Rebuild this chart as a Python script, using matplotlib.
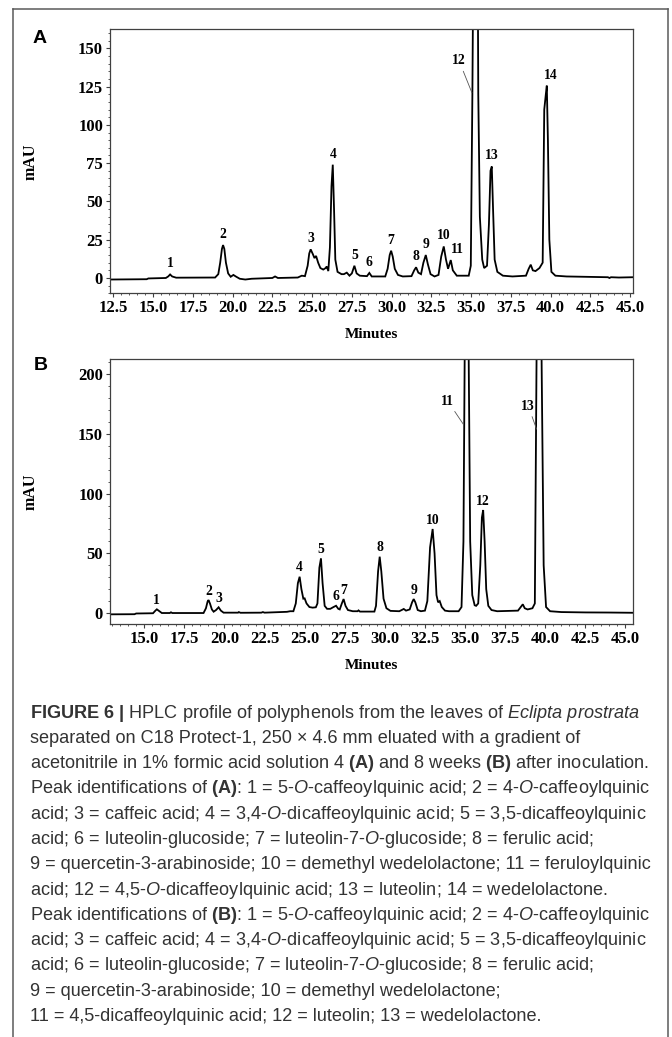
import matplotlib
matplotlib.use("Agg")
import matplotlib.pyplot as plt
from matplotlib.ticker import MultipleLocator, FormatStrFormatter
from matplotlib.lines import Line2D

# ---------------- data ----------------
# chromatogram A (4 weeks): (minutes, mAU) points
trace_a = [
    (12.29, -1.0), (14.6, -0.8), (14.7, -0.3), (15.8, 0.0), (15.95, 1.0), (16.07, 2.3),
    (16.2, 1.0), (16.45, 0.2), (18.9, 0.3), (19.1, 2.5), (19.22, 10), (19.33, 19),
    (19.4, 21.5), (19.48, 19), (19.58, 10), (19.72, 3), (19.88, 0.8), (20.05, 2.0),
    (20.2, 1.0), (20.45, -0.5), (20.8, -1.0), (21.2, -0.5), (22.5, 0.0), (22.67, 1.0),
    (22.85, 0.0), (24.1, 0.3), (24.35, 1.5), (24.55, 1.2), (24.72, 8), (24.82, 16),
    (24.91, 18.7), (25.05, 15.5), (25.15, 13), (25.25, 14.4), (25.38, 10), (25.52, 6.5),
    (25.7, 5.5), (25.85, 6.5), (25.92, 7.5), (26.02, 4.5), (26.12, 20), (26.22, 60),
    (26.3, 74), (26.38, 45), (26.46, 12), (26.6, 4), (26.85, 2.5), (27.0, 2.5),
    (27.18, 3.5), (27.35, 1.5), (27.5, 3), (27.66, 8), (27.8, 3), (28.0, 1.5),
    (28.45, 1.2), (28.6, 3.3), (28.75, 1.0), (29.6, 1.0), (29.75, 6), (29.88, 15),
    (29.97, 17.8), (30.07, 14), (30.2, 6), (30.4, 2), (30.7, 1.0), (31.25, 1.2),
    (31.42, 5), (31.54, 7), (31.68, 3.5), (31.85, 2.5), (32.0, 10), (32.15, 15),
    (32.28, 9), (32.45, 2.5), (32.7, 1.0), (32.95, 2), (33.12, 14), (33.28, 20.6),
    (33.42, 12), (33.55, 6), (33.72, 11.7), (33.85, 5), (34.1, 1.5), (34.85, 1.5),
    (34.98, 8), (35.08, 120), (35.2, 300), (35.29, 340), (35.38, 300), (35.45, 120),
    (35.55, 40), (35.7, 12), (35.82, 6.5), (36.0, 8), (36.12, 35), (36.22, 70),
    (36.3, 72.8), (36.38, 45), (36.48, 12), (36.65, 4), (37.0, 1.5), (37.6, 1.0),
    (38.45, 1.5), (38.62, 6), (38.75, 8.7), (38.88, 5), (39.05, 4.5), (39.3, 6.5),
    (39.5, 10), (39.6, 110), (39.7, 120), (39.76, 125.6), (39.83, 90), (39.92, 25),
    (40.05, 4), (40.3, 1.5), (41.0, 1.0), (43.6, 0.5), (43.7, 0.0), (43.8, 0.5),
    (44.3, 0.3), (45.2, 0.5),
]

# chromatogram B (8 weeks)
trace_b = [
    (12.87, -1.1), (14.4, -1.0), (14.5, -0.4), (15.55, -0.2), (15.7, 2.0), (15.79, 3.1),
    (15.9, 2.0), (16.1, 0.0), (16.6, 0.0), (16.67, 0.6), (16.75, 0.0), (18.7, 0.0),
    (18.85, 4), (18.95, 9.5), (19.01, 10.9), (19.1, 8), (19.22, 3), (19.33, 1.1),
    (19.48, 2.5), (19.64, 4.8), (19.78, 2), (19.95, 0.3), (20.85, 0.3), (20.9, 0.8),
    (21.0, 0.2), (22.3, 0.3), (22.4, 0.8), (22.5, 0.3), (23.9, 1.0), (24.1, 1.5),
    (24.3, 1.5), (24.45, 8), (24.58, 25), (24.69, 30.4), (24.8, 20), (24.92, 12),
    (25.0, 12.3), (25.12, 8), (25.3, 5), (25.5, 4.5), (25.7, 4.8), (25.8, 8),
    (25.92, 38), (26.02, 45.8), (26.12, 25), (26.25, 6), (26.4, 3.5), (26.6, 3.5),
    (26.8, 5), (26.96, 6.1), (27.1, 3.5), (27.19, 3), (27.32, 8), (27.43, 11.7),
    (27.55, 6), (27.7, 2.5), (28.0, 1.5), (28.3, 1.5), (28.36, 2.2), (28.45, 1.2),
    (29.35, 1.2), (29.45, 6), (29.58, 35), (29.68, 47.2), (29.78, 35), (29.92, 12),
    (30.1, 4), (30.35, 1.8), (30.9, 1.5), (31.05, 2.5), (31.18, 3.4), (31.32, 2),
    (31.55, 3), (31.7, 9), (31.8, 11.7), (31.9, 9), (32.05, 2.5), (32.25, 1.5),
    (32.5, 2), (32.65, 10), (32.82, 55), (32.98, 70.4), (33.1, 50), (33.22, 15),
    (33.32, 9), (33.42, 10), (33.55, 5), (33.75, 2), (34.0, 1.5), (34.6, 1.5),
    (34.78, 5), (34.9, 60), (35.0, 260), (35.1, 460), (35.2, 260), (35.32, 60),
    (35.45, 15), (35.6, 6.5), (35.69, 6), (35.82, 8), (35.95, 40), (36.05, 80),
    (36.13, 86.3), (36.22, 60), (36.32, 20), (36.45, 6), (36.65, 2.5), (37.0, 1.5),
    (38.3, 2), (38.5, 5.5), (38.6, 7.3), (38.72, 4), (38.9, 3), (39.2, 4),
    (39.35, 8), (39.45, 200), (39.6, 470), (39.78, 200), (39.9, 40), (40.05, 5),
    (40.3, 1.5), (41.0, 0.8), (42.5, 0.5), (44.0, 0.4), (45.5, 0.2),
]

# peak labels (number, retention time, peak height)
labels_a = ["1", "2", "3", "4", "5", "6", "7", "8", "9", "10", "11", "13", "14"]
label_time_a = [16.07, 19.4, 24.91, 26.3, 27.66, 28.6, 29.97, 31.54, 32.15, 33.28, 33.72, 36.3, 39.76]
label_height_a = [2.3, 21.5, 18.7, 74, 8, 3.3, 17.8, 7, 15, 20.6, 11.7, 72.8, 125.6]

labels_b = ["1", "2", "3", "4", "5", "6", "7", "8", "9", "10", "12"]
label_time_b = [15.79, 19.01, 19.64, 24.69, 26.02, 26.96, 27.43, 29.68, 31.8, 32.98, 36.13]
label_height_b = [3.1, 10.9, 4.8, 30.4, 45.8, 6.1, 11.7, 47.2, 11.7, 70.4, 86.3]

# off-scale peaks labelled with a leader line: (label, text position, line end)
leader_a = [("12", (34.24, 141.9), (35.05, 121.0))]
leader_b = [("11", (33.92, 177.6), (34.9, 158.0)), ("13", (38.94, 173.4), (39.46, 154.0))]

xticks_a = [12.5, 15.0, 17.5, 20.0, 22.5, 25.0, 27.5, 30.0, 32.5, 35.0, 37.5, 40.0, 42.5, 45.0]
yticks_a = [0, 25, 50, 75, 100, 125, 150]
xticks_b = [15.0, 17.5, 20.0, 22.5, 25.0, 27.5, 30.0, 32.5, 35.0, 37.5, 40.0, 42.5, 45.0]
yticks_b = [0, 50, 100, 150, 200]

caption_lines = [
    r"$\mathbf{FIGURE\ 6\ |}$ HPLC profile of polyphenols from the leaves of $\mathit{Eclipta\ prostrata}$",
    "separated on C18 Protect-1, 250 \u00d7 4.6 mm eluated with a gradient of",
    r"acetonitrile in 1% formic acid solution 4 $\mathbf{(A)}$ and 8 weeks $\mathbf{(B)}$ after inoculation.",
    r"Peak identifications of $\mathbf{(A)}$: 1 = 5-$\mathit{O}$-caffeoylquinic acid; 2 = 4-$\mathit{O}$-caffeoylquinic",
    r"acid; 3 = caffeic acid; 4 = 3,4-$\mathit{O}$-dicaffeoylquinic acid; 5 = 3,5-dicaffeoylquinic",
    r"acid; 6 = luteolin-glucoside; 7 = luteolin-7-$\mathit{O}$-glucoside; 8 = ferulic acid;",
    "9 = quercetin-3-arabinoside; 10 = demethyl wedelolactone; 11 = feruloylquinic",
    r"acid; 12 = 4,5-$\mathit{O}$-dicaffeoylquinic acid; 13 = luteolin; 14 = wedelolactone.",
    r"Peak identifications of $\mathbf{(B)}$: 1 = 5-$\mathit{O}$-caffeoylquinic acid; 2 = 4-$\mathit{O}$-caffeoylquinic",
    r"acid; 3 = caffeic acid; 4 = 3,4-$\mathit{O}$-dicaffeoylquinic acid; 5 = 3,5-dicaffeoylquinic",
    r"acid; 6 = luteolin-glucoside; 7 = luteolin-7-$\mathit{O}$-glucoside; 8 = ferulic acid;",
    "9 = quercetin-3-arabinoside; 10 = demethyl wedelolactone;",
    "11 = 4,5-dicaffeoylquinic acid; 12 = luteolin; 13 = wedelolactone.",
]

# ---------------- style ----------------
W, H, DPI = 672, 1037, 100
SERIF = "Liberation Serif"
SANS = "Liberation Sans"
plt.rcParams["mathtext.fontset"] = "custom"
plt.rcParams["mathtext.rm"] = SANS
plt.rcParams["mathtext.it"] = SANS + ":italic"
plt.rcParams["mathtext.bf"] = SANS + ":bold"

fig = plt.figure(figsize=(W / DPI, H / DPI), dpi=DPI)
fig.patch.set_facecolor("white")


def fx(px):
    return px / W


def fy(py):
    return 1 - py / H


# outer frame (left, top, right edges)
frame_col = "#5a5a5a"
for xs, ys in [((13, 13), (9, H + 5)), ((13, 668), (9, 9)), ((668, 668), (9, H + 5))]:
    fig.add_artist(Line2D([fx(x) for x in xs], [fy(y) for y in ys], color=frame_col, lw=1.1))


def make_panel(rect_px, trace, xlim, ylim, xticks, yticks, yminor, labels, ltime, lheight,
               leaders, label_dy, letter, letter_pos):
    l, t, r, b = rect_px
    ax = fig.add_axes([fx(l), fy(b), (r - l) / W, (b - t) / H])
    xs = [p[0] for p in trace]
    ys = [p[1] for p in trace]
    ax.plot(xs, ys, color="black", lw=1.3, solid_joinstyle="miter")
    ax.set_xlim(*xlim)
    ax.set_ylim(*ylim)
    ax.set_xticks(xticks)
    ax.set_yticks(yticks)
    ax.xaxis.set_minor_locator(MultipleLocator(0.5))
    ax.yaxis.set_minor_locator(MultipleLocator(yminor))
    ax.xaxis.set_major_formatter(FormatStrFormatter("%.1f"))
    ax.tick_params(which="major", direction="out", length=3.0, width=0.8, pad=2,
                   color="#404040", labelsize=12)
    ax.tick_params(which="minor", direction="out", length=1.6, width=0.6, color="#404040")
    ax.tick_params(top=False, right=False, which="both")
    for lab in ax.get_xticklabels() + ax.get_yticklabels():
        lab.set_fontfamily(SERIF)
        lab.set_fontweight("bold")
    for sp in ax.spines.values():
        sp.set_color("#404040")
        sp.set_linewidth(0.9)
    ax.set_ylabel("mAU", fontfamily=SERIF, fontweight="bold", fontsize=11.5)
    ax.yaxis.set_label_coords((39 - l) / (r - l), 0.5)
    ax.set_xlabel("Minutes", fontfamily=SERIF, fontweight="bold", fontsize=11)
    ax.xaxis.set_label_coords(0.5, -0.132)
    for lab, tt, hh in zip(labels, ltime, lheight):
        dx = 0
        if lab == "11" and letter == "A":
            dx = 4.5
        if lab == "14" and letter == "A":
            dx = 2.5
        ax.annotate(lab, xy=(tt, hh), xytext=(dx, label_dy), textcoords="offset points",
                    ha="center", va="center", fontfamily=SERIF, fontweight="bold",
                    fontsize=9.8, color="black")
    for lab, tpos, end in leaders:
        ax.annotate(lab, xy=end, xytext=tpos, ha="center", va="center", fontfamily=SERIF,
                    fontweight="bold", fontsize=9.8, color="black",
                    arrowprops=dict(arrowstyle="-", color="#555555", lw=0.6,
                                    shrinkA=1, shrinkB=0))
    fig.text(fx(letter_pos[0]), fy(letter_pos[1]), letter, fontfamily=SANS,
             fontweight="bold", fontsize=14, ha="center", va="center")
    return ax


make_panel((110, 29.3, 633.3, 293.3), trace_a, (12.29, 45.2), (-10, 162.4), xticks_a, yticks_a, 5,
           labels_a, label_time_a, label_height_a, leader_a, 7.6, "A", (40, 38.5))
make_panel((110, 359, 632.7, 624), trace_b, (12.87, 45.45), (-9.2, 212.8), xticks_b, yticks_b, 10,
           labels_b, label_time_b, label_height_b, leader_b, 6.3, "B", (40.5, 365))

# caption: fit font size to the measured line width
fig.canvas.draw()
renderer = fig.canvas.get_renderer()
probe = fig.text(0, 0, caption_lines[6], fontfamily=SANS, fontsize=11)
w = probe.get_window_extent(renderer).width
probe.remove()
cap_fs = 11 * 621.0 / w

for i, line in enumerate(caption_lines):
    y = 717.5 + i * 25.3
    fig.text(fx(30), fy(y), line, fontfamily=SANS, fontsize=cap_fs, color="#333333",
             ha="left", va="baseline")

fig.savefig("out.png", dpi=DPI, facecolor="white")
